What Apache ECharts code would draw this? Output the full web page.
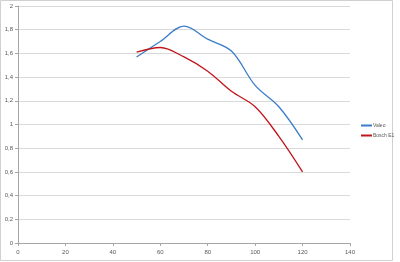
<!DOCTYPE html>
<html><head><meta charset="utf-8">
<script src="https://cdn.jsdelivr.net/npm/echarts@6/dist/echarts.min.js"></script>
<style>html,body{margin:0;padding:0;background:#fff}#c{width:400px;height:262px}</style>
</head><body><div id="c"></div>
<script>
const xValues = [50, 60, 70, 80, 90, 100, 110, 120];
const valeo = [1.57, 1.70, 1.83, 1.72, 1.62, 1.33, 1.15, 0.87];
const bosch = [1.61, 1.65, 1.57, 1.45, 1.28, 1.15, 0.90, 0.60];
const seriesNames = ['Valeo', 'Bosch E1'];

const chart = echarts.init(document.getElementById('c'), null, {renderer: 'canvas'});
const labelStyle = {color: '#595959', fontSize: 6, fontFamily: 'Liberation Sans'};
chart.setOption({
  animation: false,
  backgroundColor: '#fff',
  graphic: [{type: 'rect', shape: {x: 0.5, y: 0.5, width: 392, height: 260}, style: {fill: 'none', stroke: '#d0d0d0', lineWidth: 1}}],
  grid: {left: 18, top: 6, right: 50, bottom: 19, containLabel: false},
  legend: {
    orient: 'vertical', left: 361, top: 123, itemWidth: 11, itemHeight: 2, itemGap: 5, padding: 0,
    icon: 'rect', textStyle: {color: '#595959', fontSize: 5, fontFamily: 'Liberation Sans', padding: [0,0,0,-4]},
    data: seriesNames
  },
  xAxis: {
    type: 'value', min: 0, max: 140, interval: 20,
    axisLine: {show: true, lineStyle: {color: '#a6a6a6'}},
    axisTick: {show: true, length: 3, lineStyle: {color: '#a6a6a6'}},
    axisLabel: Object.assign({margin: 6}, labelStyle),
    splitLine: {show: false}
  },
  yAxis: {
    type: 'value', min: 0, max: 2, interval: 0.2,
    axisLine: {show: true, lineStyle: {color: '#a6a6a6'}},
    axisTick: {show: true, length: 3, lineStyle: {color: '#a6a6a6'}},
    axisLabel: Object.assign({margin: 5, formatter: v => String(Math.round(v*10)/10).replace('.', ',')}, labelStyle),
    splitLine: {show: true, lineStyle: {color: '#d9d9d9', width: 1}}
  },
  series: [
    {name: seriesNames[0], type: 'line', smooth: 0.35, symbol: 'none', color: '#3a7dc9',
     lineStyle: {width: 1.3, color: '#3a7dc9'}, data: xValues.map((x, i) => [x, valeo[i]])},
    {name: seriesNames[1], type: 'line', smooth: 0.35, symbol: 'none', color: '#c0161b',
     lineStyle: {width: 1.3, color: '#c0161b'}, data: xValues.map((x, i) => [x, bosch[i]])}
  ]
});
</script></body></html>
